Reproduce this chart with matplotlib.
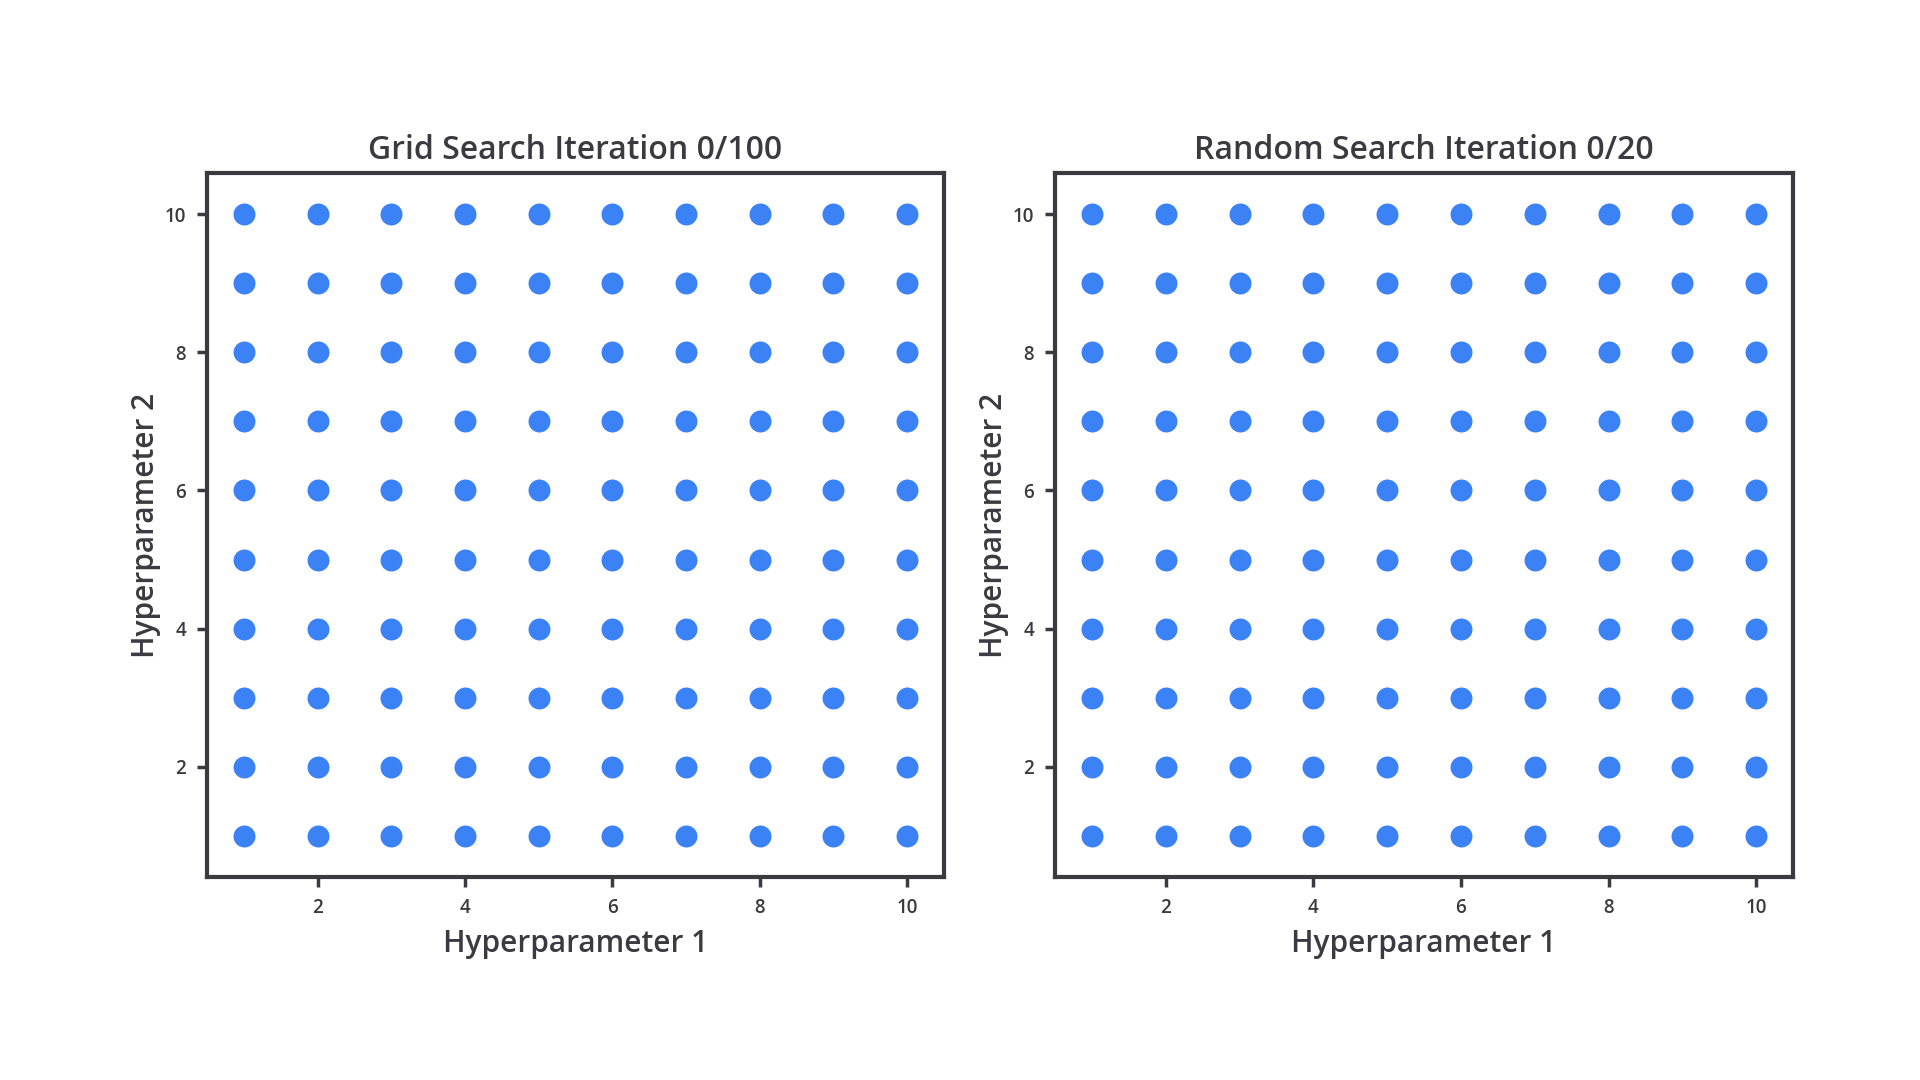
import numpy as np
from matplotlib import pyplot as plt

# Hyperparameter values on each axis
hp1_values = [1, 2, 3, 4, 5, 6, 7, 8, 9, 10]
hp2_values = [1, 2, 3, 4, 5, 6, 7, 8, 9, 10]
x_ticks = [2, 4, 6, 8, 10]
y_ticks = [2, 4, 6, 8, 10]
titles = ["Grid Search Iteration 0/100", "Random Search Iteration 0/20"]

plt.rcParams['font.family'] = ['Open Sans', 'DejaVu Sans']
text_col = "#3a3a40"
dot_col = "#3b82f6"

fig = plt.figure(figsize=(19.2, 10.8), dpi=100)

# axes boxes in figure pixels (left, right)
boxes = [(207, 944), (1055, 1793)]
top, bottom = 173, 877

xx, yy = np.meshgrid(hp1_values, hp2_values)

for (l, r), title in zip(boxes, titles):
    ax = fig.add_axes([l / 1920, 1 - bottom / 1080, (r - l) / 1920, (bottom - top) / 1080])
    ax.scatter(xx.ravel(), yy.ravel(), s=250, color=dot_col, linewidths=0, zorder=3)
    ax.set_xlim(0.5, 10.5)
    ax.set_ylim(0.4, 10.6)
    ax.set_xticks(x_ticks)
    ax.set_yticks(y_ticks)
    for sp in ax.spines.values():
        sp.set_color(text_col)
        sp.set_linewidth(3)
    ax.tick_params(colors=text_col, width=2.5, length=7, labelsize=13.5, pad=8)
    for lab in ax.get_xticklabels() + ax.get_yticklabels():
        lab.set_fontweight('semibold')
    ax.set_title(title, fontsize=23, color=text_col, pad=10, fontweight='semibold')
    ax.set_xlabel("Hyperparameter 1", fontsize=21.5, color=text_col, labelpad=8,
                  fontweight='semibold')
    ax.set_ylabel("Hyperparameter 2", fontsize=21.5, color=text_col, labelpad=3,
                  fontweight='semibold')

fig.savefig("out.png", dpi=100, facecolor="white")
